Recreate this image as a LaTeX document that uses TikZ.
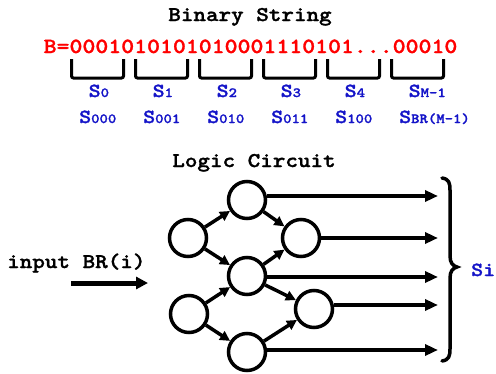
\documentclass[tikz,border=0pt]{standalone}
\usepackage{fontspec}
\newfontfamily\cour{lmmonolt10-bold.otf}[FakeStretch=1.14,FakeBold=1.3]
\usetikzlibrary{arrows.meta}
\definecolor{lblue}{RGB}{20,20,200}
\newcommand\myfs[1]{\fontsize{#1}{#1}\selectfont}
\newcommand\subtx[1]{{\myfs{14}#1}}
\begin{document}
\begin{tikzpicture}[x=1pt,y=-1pt,
  txt/.style={inner sep=0pt,font=\cour\myfs{21}},
  lbl/.style={inner sep=0pt,anchor=base west,text=lblue,font=\cour\myfs{20}},
  circ/.style={circle,draw,line width=3.5pt,minimum size=37pt,inner sep=0pt},
  brk/.style={line width=3pt,rounded corners=2pt},
  link/.style={line width=3.5pt,-{Triangle[length=10pt,width=10pt]}},
  outarr/.style={line width=4pt,-{Triangle[length=13pt,width=11pt]}},
  inarr/.style={line width=5pt,-{Triangle[length=12pt,width=12pt]}}
]
\useasboundingbox (0,0) rectangle (496,373);

% titles
\node[txt,anchor=base] (t1) at (250,21) {Binary String};
\node[txt,anchor=base,text=red,font=\cour\myfs{21.6}] (bs) at (250.5,53) {B=0001010101010001110101...00010};

% brackets
\foreach \k in {0,...,5}{
  \draw[brk] ({71.5+64*\k},59) -- ({71.5+64*\k},78) -- ({123.5+64*\k},78) -- ({123.5+64*\k},59);
}

% labels
\node[lbl] (a0) at (88.5,97) {S\subtx{0}};
\node[lbl] (a1) at (152.5,97) {S\subtx{1}};
\node[lbl] (a2) at (216.5,97) {S\subtx{2}};
\node[lbl] (a3) at (280.5,97) {S\subtx{3}};
\node[lbl] (a4) at (344.5,97) {S\subtx{4}};
\node[lbl] (a5) at (408.5,97) {S\subtx{M-1}};
\node[lbl] (b0) at (79,123) {S\subtx{000}};
\node[lbl] (b1) at (143,123) {S\subtx{001}};
\node[lbl] (b2) at (207,123) {S\subtx{010}};
\node[lbl] (b3) at (271,123) {S\subtx{011}};
\node[lbl] (b4) at (335,123) {S\subtx{100}};
\node[lbl] (b5) at (399,123) {S\subtx{BR(M-1)}};

% logic circuit
\node[txt,anchor=base] (t2) at (254,167) {Logic Circuit};
\node[txt,anchor=base west] (inp) at (7,268) {input BR(i)};
\coordinate (i1) at (71,283);
\coordinate (i2) at (148,283);
\draw[inarr] (i1) -- (i2);

\node[circ] (L1) at (188,238) {};
\node[circ] (L2) at (189,314) {};
\node[circ] (M1) at (247,200) {};
\node[circ] (M2) at (247,276) {};
\node[circ] (M3) at (247,352) {};
\node[circ] (R1) at (301,238) {};
\node[circ] (R2) at (314,309) {};

\draw[link] (L1) -- (M1);
\draw[link] (L1) -- (M2);
\draw[link] (L2) -- (M2);
\draw[link] (L2) -- (M3);
\draw[link] (M1) -- (R1);
\draw[link] (M2) -- (R1);
\draw[link] (M2) -- (R2);
\draw[link] (M3) -- (R2);

\coordinate (o1) at (438,196);
\coordinate (o2) at (438,238);
\coordinate (o3) at (438,277);
\coordinate (o4) at (438,305);
\coordinate (o5) at (438,350);
\draw[outarr] (M1.east |- o1) -- (o1);
\draw[outarr] (R1.east |- o2) -- (o2);
\draw[outarr] (M2.east |- o3) -- (o3);
\draw[outarr] (R2.east |- o4) -- (o4);
\draw[outarr] (M3.east |- o5) -- (o5);

% brace
\draw[line width=3.5pt,line cap=round]
  (442,178) .. controls (449,179) and (450,183) .. (450,190)
  -- (450,256) .. controls (450,263) and (453,266) .. (457,267)
  .. controls (453,268) and (450,271) .. (450,278)
  -- (450,349) .. controls (450,356) and (449,360) .. (442,361);

\node[lbl] (si) at (471,276) {Si};
\end{tikzpicture}
\end{document}
